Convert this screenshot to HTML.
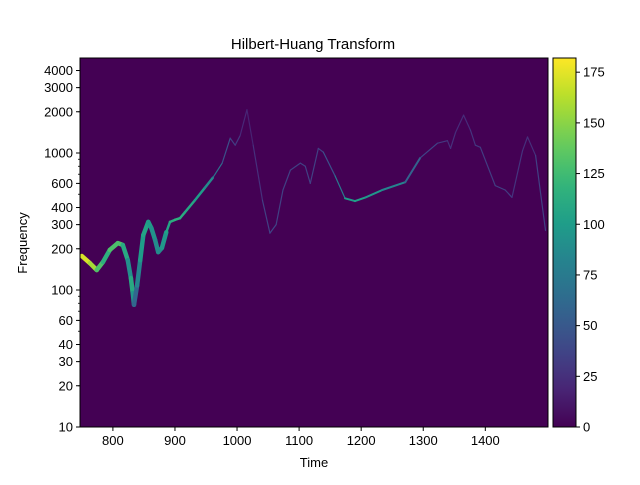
<!DOCTYPE html>
<html><head><meta charset="utf-8"><style>
body{margin:0;background:#fff;}
svg text{font-family:"Liberation Sans","DejaVu Sans",sans-serif;font-size:13px;fill:#000;}
</style></head><body>
<svg id="c" width="640" height="480" viewBox="0 0 640 480">
<rect x="0" y="0" width="640" height="480" fill="#fff"/>
<text x="313" y="49" text-anchor="middle" style="font-size:15px">Hilbert-Huang Transform</text>
<g id="plot"></g>
<g id="axes"></g>
<text x="314" y="467" text-anchor="middle">Time</text>
<text x="27" y="243" text-anchor="middle" transform="rotate(-90 27 243)">Frequency</text>
</svg>
<script>
const times=[750,763,774,784,795,808,816,824,829,832,834,839,844,849,857,862,868,873,879,886,892,900,908,916,932,948,961,976,989,997,1005,1016,1026,1041,1053,1063,1074,1086,1102,1110,1118,1131,1139,1158,1174,1190,1207,1234,1271,1295,1323,1339,1344,1352,1365,1376,1384,1392,1416,1432,1443,1460,1468,1481,1497];
const freqs=[177,157,140,160,196,220,213,165,122,95,78,108,165,252,314,283,232,189,203,264,314,325,334,369,451,556,660,843,1283,1140,1340,2070,1140,451,260,300,537,750,843,800,600,1080,1015,680,467,446,474,537,612,920,1180,1230,1080,1410,1890,1470,1140,1100,578,537,474,1040,1310,960,272];
const amps=[178,165,150,110,120,140,120,100,80,140,50,70,95,105,105,95,90,85,90,100,110,115,115,110,105,95,80,55,35,35,25,15,20,30,40,35,35,35,35,35,35,35,35,55,95,105,100,90,75,40,35,25,25,25,20,25,30,30,35,35,30,25,25,25,45];
const yTicks=[10,20,30,40,60,100,200,300,400,600,1000,2000,3000,4000];
const xTicks=[800,900,1000,1100,1200,1300,1400];
const cbTicks=[0,25,50,75,100,125,150,175];
const T0=747,T1=1501,PX0=80,PX1=548,PY0=58,PY1=427,FMIN=10,DEC=137,CMAX=182;
const NS="http://www.w3.org/2000/svg";
const X=t=>PX0+(t-T0)/(T1-T0)*(PX1-PX0);
const Y=f=>PY1-(Math.log10(f)-Math.log10(FMIN))*DEC;
const vir=[[68,1,84],[72,40,120],[62,74,137],[49,104,142],[38,130,142],[31,158,137],[53,183,121],[109,205,89],[180,222,44],[253,231,37]];
function viridis(v){v=Math.max(0,Math.min(1,v));const p=v*(vir.length-1),i=Math.min(Math.floor(p),vir.length-2),f=p-i;const c=vir[i].map((a,k)=>Math.round(a+(vir[i+1][k]-a)*f));return `rgb(${c})`;}
function el(tag,attrs,parent){const e=document.createElementNS(NS,tag);for(const k in attrs)e.setAttribute(k,attrs[k]);parent.appendChild(e);return e;}
const plot=document.getElementById('plot'),axes=document.getElementById('axes');
const bg=el('rect',{x:PX0,y:PY0,width:PX1-PX0,height:PY1-PY0,fill:viridis(0)},plot);


for(let i=0;i<times.length-1;i++){
 const w=times[i]<880?4.5:(times[i]<960?2.5:(times[i]>1170&&times[i]<1280?2:1.2));
 const a=(amps[i]+amps[i+1])/2;
 const s=el('line',{x1:X(times[i]),y1:Y(freqs[i]),x2:X(times[i+1]),y2:Y(freqs[i+1]),stroke:viridis(a/CMAX),'stroke-width':w,'stroke-linecap':'round'},plot);
 
 
}
const fr=el('rect',{x:PX0,y:PY0,width:PX1-PX0,height:PY1-PY0,fill:'none',stroke:'#000','stroke-width':1},axes);


for(let d=1;d<=3;d++)for(let m=1;m<10;m++){const f=m*Math.pow(10,d);const y=Y(f);if(y<PY0)continue;el('line',{x1:PX0-2,x2:PX0,y1:y,y2:y,stroke:'#000','stroke-width':0.8},axes);}
yTicks.forEach(v=>{const y=Y(v);el('line',{x1:PX0-4,x2:PX0,y1:y,y2:y,stroke:'#000'},axes);const t=el('text',{x:PX0-7,y:y+4.5,'text-anchor':'end'},axes);t.textContent=v;

});
xTicks.forEach(v=>{const x=X(v);el('line',{x1:x,x2:x,y1:PY1,y2:PY1+4,stroke:'#000'},axes);const t=el('text',{x:x,y:PY1+18,'text-anchor':'middle'},axes);t.textContent=v;

});
const CX=553,CW=23;
const g=el('defs',{},axes);const lg=el('linearGradient',{id:'cg',x1:0,y1:1,x2:0,y2:0},g);
for(let i=0;i<=20;i++)el('stop',{offset:i/20,'stop-color':viridis(i/20)},lg);
const cb=el('rect',{x:CX,y:PY0,width:CW,height:PY1-PY0,fill:'url(#cg)',stroke:'#000','stroke-width':1},axes);


cbTicks.forEach(v=>{const y=PY1-v/CMAX*(PY1-PY0);el('line',{x1:CX+CW,x2:CX+CW+4,y1:y,y2:y,stroke:'#000'},axes);const t=el('text',{x:CX+CW+7,y:y+4.5},axes);t.textContent=v;

});
</script>
</body></html>
